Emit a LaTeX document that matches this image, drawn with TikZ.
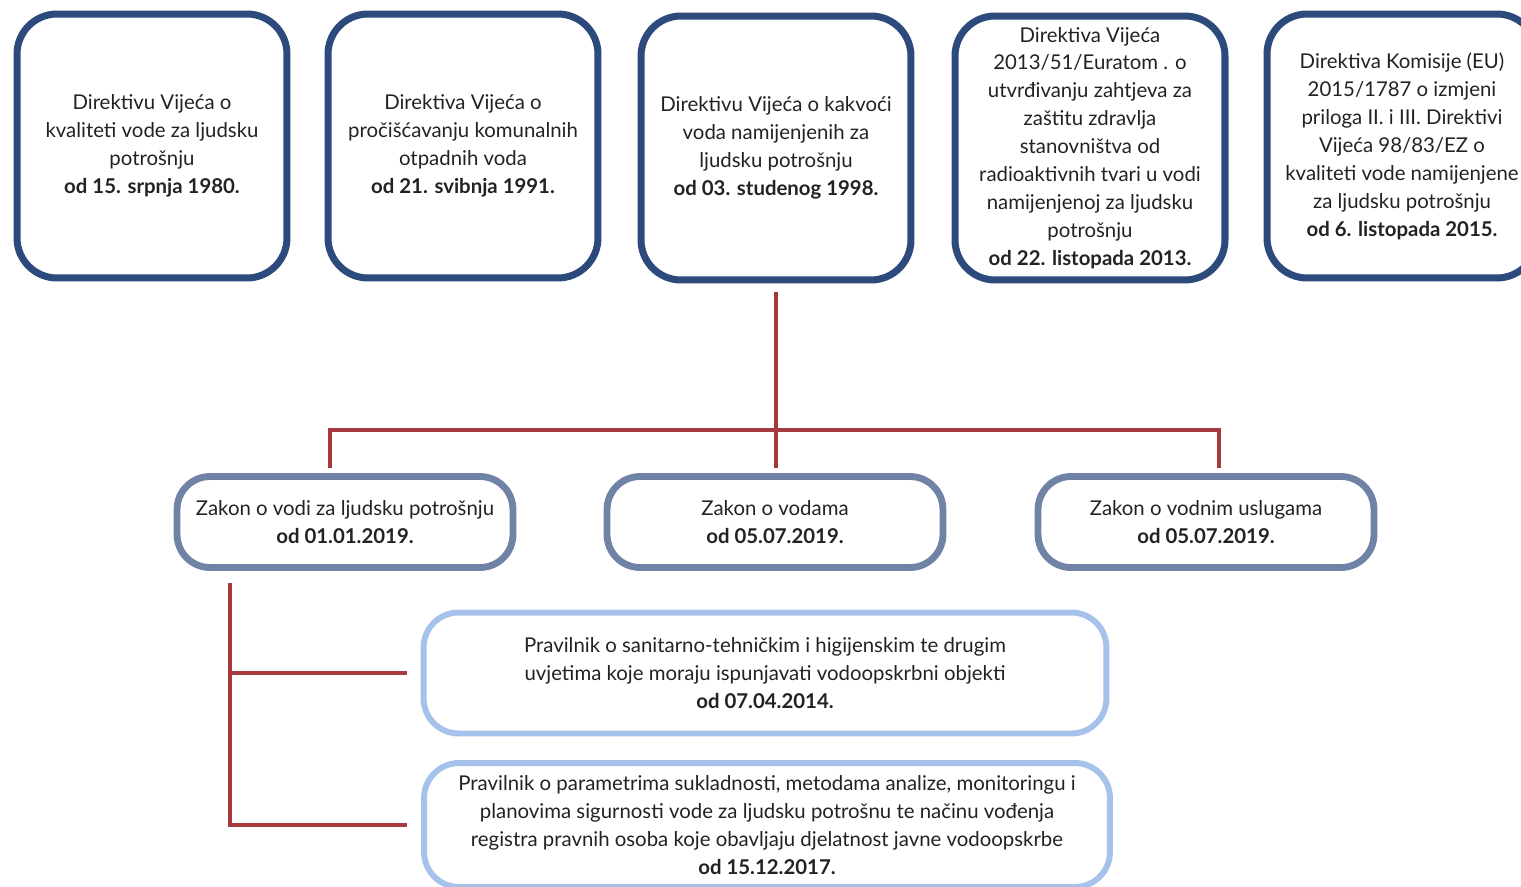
\documentclass[tikz,border=0pt]{standalone}
\usepackage{fontspec}
\setmainfont{Lato}
\usetikzlibrary{positioning}

\definecolor{dirblue}{HTML}{2D4A7C}
\definecolor{lawblue}{HTML}{7083A6}
\definecolor{rulblue}{HTML}{A7C2EA}
\definecolor{linkred}{HTML}{A63A3F}
\definecolor{txtgray}{HTML}{222222}

\begin{document}
\begin{tikzpicture}[x=0.02cm, y=-0.02cm,
    every node/.style={font=\fontsize{11.6}{15.9}\selectfont, text=txtgray, align=center},
    directive/.style={draw=dirblue, line width=4pt, rounded corners=0.8cm,
        minimum width=5.4cm, minimum height=5.28cm, inner sep=0pt},
    law/.style={draw=lawblue, line width=3.9pt, rounded corners=0.66cm,
        minimum width=6.72cm, minimum height=1.82cm, inner sep=0pt},
    rule/.style={draw=rulblue, line width=3.4pt, rounded corners=0.7cm,
        minimum height=2.42cm, inner sep=0pt},
    link/.style={draw=linkred, line width=2.1pt}]
    \useasboundingbox (0,0) rectangle (1521,886);

    \node[directive] (d1) at (152,146) {Direktivu Vijeća o\\kvaliteti vode za ljudsku\\potrošnju\\\textbf{od 15. srpnja 1980.}};
    \node[directive] (d2) at (463,146) {Direktiva Vijeća o\\pročišćavanju komunalnih\\otpadnih voda\\\textbf{od 21. svibnja 1991.}};
    \node[directive] (d3) at (776,148) {Direktivu Vijeća o kakvoći\\voda namijenjenih za\\ljudsku potrošnju\\\textbf{od 03. studenog 1998.}};
    \node[directive] (d4) at (1090,148) {Direktiva Vijeća\\2013/51/Euratom . o\\utvrđivanju zahtjeva za\\zaštitu zdravlja\\stanovništva od\\radioaktivnih tvari u vodi\\namijenjenoj za ljudsku\\potrošnju\\\textbf{od 22. listopada 2013.}};
    \node[directive] (d5) at (1402,146) {Direktiva Komisije (EU)\\2015/1787 o izmjeni\\priloga II. i III. Direktivi\\Vijeća 98/83/EZ o\\kvaliteti vode namijenjene\\za ljudsku potrošnju\\\textbf{od 6. listopada 2015.}};

    \node[law] (z1) at (345,522) {Zakon o vodi za ljudsku potrošnju\\\textbf{od 01.01.2019.}};
    \node[law] (z2) at (775,522) {Zakon o vodama\\\textbf{od 05.07.2019.}};
    \node[law] (z3) at (1206,522) {Zakon o vodnim uslugama\\\textbf{od 05.07.2019.}};

    \node[rule, minimum width=13.66cm] (p1) at (765,673) {Pravilnik o sanitarno-tehničkim i higijenskim te drugim\\uvjetima koje moraju ispunjavati vodoopskrbni objekti\\\textbf{od 07.04.2014.}};
    \node[rule, minimum width=13.72cm, minimum height=2.48cm] (p2) at (767,825) {Pravilnik o parametrima sukladnosti, metodama analize, monitoringu i\\planovima sigurnosti vode za ljudsku potrošnu te načinu vođenja\\registra pravnih osoba koje obavljaju djelatnost javne vodoopskrbe\\\textbf{od 15.12.2017.}};

    \coordinate (busL) at (330,430);
    \coordinate (busR) at (1219,430);
    \coordinate (trunk) at (230,600);

    \draw[link, shorten <=5, shorten >=3] (d3.south) -- (d3.south |- z2.north);
    \draw[link, shorten <=3, shorten >=3] (busL |- z1.north) -- (busL) -- (busR) -- (busR |- z3.north);
    \draw[link, shorten <=7, shorten >=8] (trunk |- z1.south) -- (trunk |- p2.west) -- (p2.west);
    \draw[link, shorten >=8] (trunk |- p1.west) -- (p1.west);
\end{tikzpicture}
\end{document}
